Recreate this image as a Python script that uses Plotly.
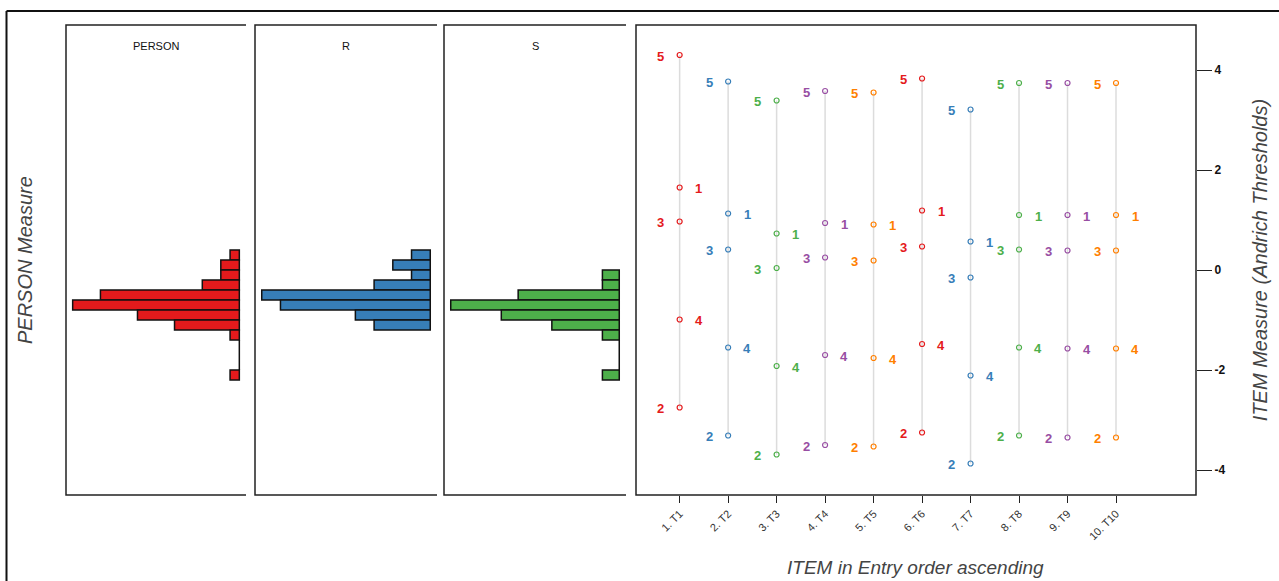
import plotly.graph_objects as go

# ---------------- data ----------------
bin_centers = [0.3, 0.1, -0.1, -0.3, -0.5, -0.7, -0.9, -1.1, -1.3, -1.5, -1.7, -1.9, -2.1]
person_counts = [1, 2, 2, 4, 15, 18, 11, 7, 1, 0, 0, 0, 1]
r_counts = [1, 2, 1, 3, 9, 8, 4, 3, None, None, None, None, None]
s_counts = [None, None, 1, 1, 6, 10, 7, 4, 1, 0, 0, 0, 1]
panel_titles = ["PERSON", "R", "S"]

items = ["1. T1", "2. T2", "3. T3", "4. T4", "5. T5", "6. T6", "7. T7", "8. T8", "9. T9", "10. T10"]
thr1 = [1.65, 1.13, 0.73, 0.94, 0.91, 1.19, 0.57, 1.10, 1.10, 1.10]
thr2 = [-2.75, -3.31, -3.69, -3.50, -3.53, -3.25, -3.87, -3.31, -3.35, -3.35]
thr3 = [0.97, 0.41, 0.04, 0.25, 0.19, 0.47, -0.15, 0.41, 0.39, 0.39]
thr4 = [-0.99, -1.55, -1.92, -1.70, -1.76, -1.48, -2.11, -1.55, -1.57, -1.57]
thr5 = [4.30, 3.77, 3.39, 3.58, 3.55, 3.83, 3.21, 3.74, 3.74, 3.74]
right_ticks = [-4, -2, 0, 2, 4]

# ---------------- styles ----------------
W, H = 1279, 581
FONT = "Liberation Sans, Arial, sans-serif"
hist_colors = ["#E41A1C", "#377EB8", "#4DAF4A"]
item_colors = ["#E41A1C", "#377EB8", "#4DAF4A", "#984EA3", "#FF7F00"]
YR = [-4.5, 4.9]

def px_x(x):
    return x / W

def px_y(y):
    return 1 - y / H

panels_px = [(66, 246), (255, 437), (444, 626)]
top_px, bot_px = 25, 495
right_px = (636, 1196)

fig = go.Figure()
layout = dict(
    width=W, height=H, margin=dict(l=0, r=0, t=0, b=0),
    paper_bgcolor="white", plot_bgcolor="white",
    showlegend=False, font=dict(family=FONT, color="#222"),
)

shapes = []
annotations = []

hist_data = [person_counts, r_counts, s_counts]
for k in range(3):
    xa = "x" if k == 0 else f"x{k+1}"
    ya = "y" if k == 0 else f"y{k+1}"
    counts = hist_data[k]
    mx = max(c for c in counts if c is not None)
    fig.add_trace(go.Bar(
        y=bin_centers, x=counts, orientation="h", width=0.2,
        marker=dict(color=hist_colors[k], line=dict(color="#111", width=1.5)),
        xaxis=xa, yaxis=ya, hoverinfo="skip",
    ))
    x0, x1 = panels_px[k]
    layout["xaxis" if k == 0 else f"xaxis{k+1}"] = dict(
        domain=[px_x(x0), px_x(x1)], range=[mx * 1.04, -mx * 0.04],
        showgrid=False, zeroline=False, showticklabels=False, ticks="",
        anchor=ya,
    )
    layout["yaxis" if k == 0 else f"yaxis{k+1}"] = dict(
        domain=[px_y(bot_px), px_y(top_px)], range=YR,
        showgrid=False, zeroline=False, showticklabels=False, ticks="",
        anchor=xa,
    )
    # C-shaped box
    shapes.append(dict(
        type="path", xref="paper", yref="paper",
        path=f"M {px_x(x1)},{px_y(top_px)} L {px_x(x0)},{px_y(top_px)} L {px_x(x0)},{px_y(bot_px)} L {px_x(x1)},{px_y(bot_px)}",
        line=dict(color="#222", width=1.5),
    ))
    annotations.append(dict(
        x=px_x((x0 + x1) / 2), y=px_y(46), xref="paper", yref="paper",
        xanchor="center", yanchor="middle",
        text=panel_titles[k], showarrow=False, font=dict(size=11, color="#111"),
    ))

# ---------------- item map ----------------
n = len(items)
xs = list(range(1, n + 1))
thr_all = [thr1, thr2, thr3, thr4, thr5]

# vertical grey lines
lx, ly = [], []
for i in range(n):
    vals = [t[i] for t in thr_all]
    lx += [xs[i], xs[i], None]
    ly += [min(vals), max(vals), None]
fig.add_trace(go.Scatter(x=lx, y=ly, mode="lines", line=dict(color="#DCDCDC", width=1.5),
                         xaxis="x4", yaxis="y4", hoverinfo="skip"))

for i in range(n):
    col = item_colors[i % 5]
    ys = [t[i] for t in thr_all]
    fig.add_trace(go.Scatter(
        x=[xs[i]] * 5, y=ys, mode="markers",
        marker=dict(symbol="circle-open", size=5, color=col, line=dict(width=1.2, color=col)),
        xaxis="x4", yaxis="y4", hoverinfo="skip",
    ))
    for j, yv in enumerate(ys):
        lab = j + 1
        side = 1 if lab in (1, 4) else -1
        annotations.append(dict(
            x=xs[i], y=yv, xref="x4", yref="y4", text=f"<b>{lab}</b>",
            xanchor="center", yanchor="middle",
            showarrow=False, xshift=side * 19, yshift=-1,
            font=dict(size=13, color=col),
        ))

layout["xaxis4"] = dict(
    domain=[px_x(right_px[0]), px_x(right_px[1])], range=[0.1, 11.65],
    tickvals=xs, ticktext=items, tickangle=-45, ticks="outside", ticklen=7,
    tickwidth=1.2, tickcolor="#222", tickfont=dict(size=11, color="#333"),
    showgrid=False, zeroline=False, anchor="y4",
)
layout["yaxis4"] = dict(
    domain=[px_y(bot_px), px_y(top_px)], range=YR, side="right",
    tickvals=right_ticks, ticktext=[f"<b>{v}</b>" for v in right_ticks],
    ticks="outside", ticklen=15, tickwidth=1.3, tickcolor="#222",
    tickfont=dict(size=12, color="#111"), showgrid=False, zeroline=False,
    anchor="x4",
    title=dict(text="<i>ITEM Measure (Andrich Thresholds)</i>", font=dict(size=20, color="#444"), standoff=28),
)
shapes.append(dict(type="rect", xref="paper", yref="paper",
                   x0=px_x(right_px[0]), x1=px_x(right_px[1]), y0=px_y(bot_px), y1=px_y(top_px),
                   line=dict(color="#222", width=1.5)))

# outer frame
shapes.append(dict(type="line", xref="paper", yref="paper", x0=px_x(6.5), x1=1.0,
                   y0=px_y(11), y1=px_y(11), line=dict(color="#111", width=2)))
shapes.append(dict(type="line", xref="paper", yref="paper", x0=px_x(6.5), x1=px_x(6.5),
                   y0=0, y1=px_y(11), line=dict(color="#111", width=2)))

# axis titles
annotations.append(dict(x=px_x(25), y=px_y(260), xref="paper", yref="paper",
                        xanchor="center", yanchor="middle",
                        text="<i>PERSON Measure</i>", textangle=-90, showarrow=False,
                        font=dict(size=20, color="#444")))
annotations.append(dict(x=px_x(915), y=px_y(567), xref="paper", yref="paper",
                        xanchor="center", yanchor="middle",
                        text="<i>ITEM in Entry order ascending</i>", showarrow=False,
                        font=dict(size=19, color="#444")))

layout["shapes"] = shapes
layout["annotations"] = annotations
fig.update_layout(**layout)
fig.write_html("out.html")
